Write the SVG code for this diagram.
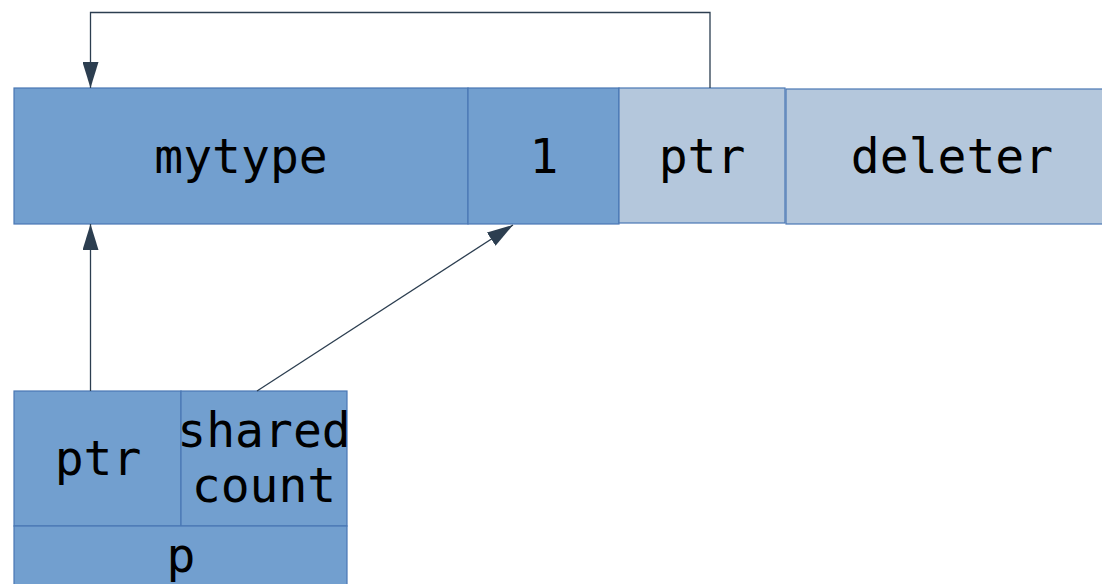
<svg xmlns="http://www.w3.org/2000/svg" width="1102" height="584" viewBox="0 0 1102 584">
<style>
.dark{fill:#729fcf;stroke:#4a77b4;stroke-width:1.2}
.light{fill:#b4c7dc;stroke:#4a77b4;stroke-width:1.2}
text{font-family:"DejaVu Sans Mono",monospace;font-size:48px;fill:#000;text-anchor:middle}
.con{fill:none;stroke:#2c3e50;stroke-width:1.3}
</style>
<defs>
<marker id="arr" viewBox="0 0 16 26" refX="16" refY="8" markerWidth="26" markerHeight="16" markerUnits="userSpaceOnUse" orient="auto">
<path d="M0,0 L26,8 L0,16 Z" fill="#2c3e50"/>
</marker>
<marker id="ah" viewBox="0 0 26 16" refX="26" refY="8" markerWidth="26" markerHeight="16" markerUnits="userSpaceOnUse" orient="auto">
<path d="M0,0 L26,8 L0,16 Z" fill="#2c3e50"/>
</marker>
</defs>
<g id="mytype"><rect class="dark" x="14" y="88" width="454" height="136"/><text x="241" y="173">mytype</text></g>
<g id="count1"><rect class="dark" x="468" y="88" width="151" height="136"/><text x="544" y="173">1</text></g>
<g id="ctrlptr"><rect class="light" x="619" y="88" width="166" height="135"/><text x="702" y="173">ptr</text></g>
<g id="deleter"><rect class="light" x="786" y="89" width="332" height="135"/><text x="952" y="173">deleter</text></g>
<g id="pptr"><rect class="dark" x="14" y="391" width="167" height="135"/><text x="98" y="475">ptr</text></g>
<g id="pcount"><rect class="dark" x="181" y="391" width="166" height="135"/><text x="264" y="447">shared</text><text x="264" y="502">count</text></g>
<g id="p"><rect class="dark" x="14" y="526" width="333" height="70"/><text x="181" y="572">p</text></g>
<g id="connectors">
<path class="con" d="M710,88 V12.5 H90.5 V88" marker-end="url(#ah)"/>
<path class="con" d="M90.5,391 V224" marker-end="url(#ah)"/>
<path class="con" d="M257,391 L513,225" marker-end="url(#ah)"/>
</g>
</svg>
